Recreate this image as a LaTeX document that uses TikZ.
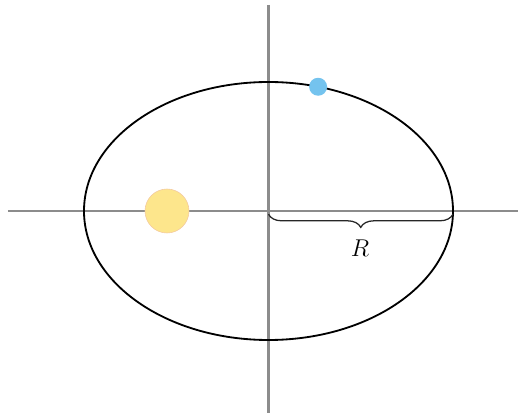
\documentclass[tikz,border=0pt]{standalone}
\usepackage{amsmath}
\usepackage{xcolor}
\usepackage{tikz}
\usetikzlibrary{decorations.pathreplacing}

\definecolor{sunfill}{HTML}{FDE68C}
\definecolor{sunline}{HTML}{F3C9A0}
\definecolor{planetfill}{HTML}{74C3EE}
\definecolor{axisgray}{HTML}{8C8C8C}

\begin{document}
\begin{tikzpicture}
      \useasboundingbox (-6.7125,-5.125) rectangle (6.2875,5.275);

      \coordinate (west) at (-6.5125,0);
      \coordinate (east) at (6.2375,0);
      \coordinate (north) at (0,5.15);
      \coordinate (south) at (0,-5.05);
      \coordinate (o) at (0,0);
      \coordinate (aph) at (4.6125,0);

      \draw[axisgray, line width=1.5pt] (west) -- (east);
      \draw[axisgray, line width=1.5pt] (north) -- (south);

      \draw[black, line width=1.3pt] (o) ellipse [x radius=4.6125, y radius=3.225];

      \node[draw=sunline, fill=sunfill, circle, minimum size=1.1cm, inner sep=0pt] (sun) at (-2.5375,0) {};
      \node[fill=planetfill, circle, minimum size=0.45cm, inner sep=0pt] (planet) at (74.4:4.6125cm and 3.225cm) {};

      \draw[black!85, line width=0.9pt, decorate, decoration={brace, mirror, amplitude=0.33cm}] ([yshift=-0.08cm]o) -- ([yshift=-0.08cm]aph);
      \node[font=\fontsize{16}{18}\selectfont] (r) at (2.29,-0.92) {$R$};
    \end{tikzpicture}
\end{document}
